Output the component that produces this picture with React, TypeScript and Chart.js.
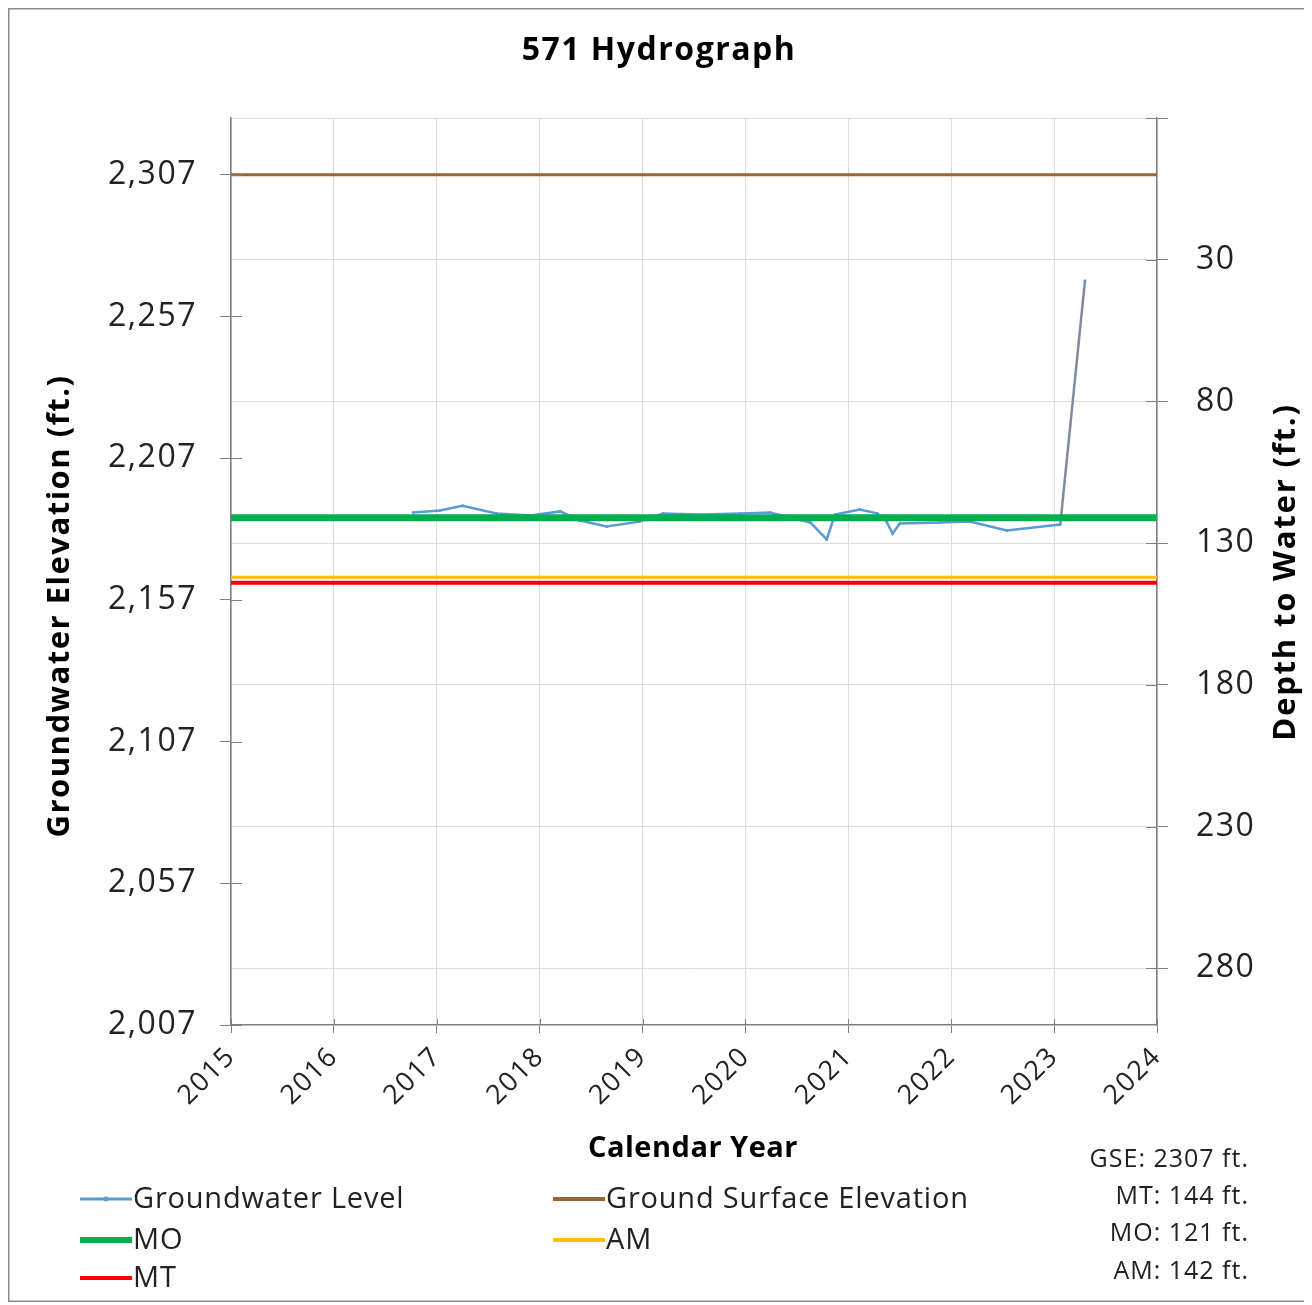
import React, { useEffect, useRef } from "react";
import { Chart, registerables } from "chart.js";

Chart.register(...registerables);

const yearTicks = [2015, 2016, 2017, 2018, 2019, 2020, 2021, 2022, 2023, 2024];
const elevTicks = [2007, 2057, 2107, 2157, 2207, 2257, 2307];
const depthTicks = [-20, 30, 80, 130, 180, 230, 280];

const gwDates = [2016.77, 2017.03, 2017.25, 2017.58, 2017.91, 2018.2, 2018.39, 2018.65, 2018.97, 2019.2, 2019.56, 2019.95, 2020.24, 2020.43, 2020.63, 2020.79, 2020.87, 2021.11, 2021.28, 2021.36, 2021.43, 2021.5, 2021.89, 2022.18, 2022.54, 2023.06, 2023.3];
const gwElev = [2187.8, 2188.5, 2190.2, 2187.5, 2186.8, 2188.2, 2185.0, 2182.9, 2184.6, 2187.5, 2187.1, 2187.5, 2187.8, 2186.1, 2184.3, 2178.3, 2187.1, 2188.9, 2187.5, 2185.4, 2180.4, 2183.9, 2184.3, 2184.6, 2181.5, 2183.6, 2269.6];

const GSE = 2307;
const MO_DEPTH = 121;
const AM_DEPTH = 142;
const MT_DEPTH = 144;

const legendItems = [
  { label: "Groundwater Level", color: "#5B9BD5", width: 3, col: 0, row: 0 },
  { label: "Ground Surface Elevation", color: "#996633", width: 4, col: 1, row: 0 },
  { label: "MO", color: "#00B050", width: 6, col: 0, row: 1 },
  { label: "AM", color: "#FFC000", width: 4, col: 1, row: 1 },
  { label: "MT", color: "#FF0000", width: 4, col: 0, row: 2 },
];
const noteLines = ["GSE: 2307 ft.", "MT: 144 ft.", "MO: 121 ft.", "AM: 142 ft."];

const FONT = "'Open Sans', 'DejaVu Sans', sans-serif";

const W = 1298;
const H = 1294;
const CA_LEFT = 223;
const CA_RIGHT = 1149;
const CA_TOP = 110;
const CA_BOTTOM = 1017;

function hline(v: number) {
  return [
    { x: 2015, y: v },
    { x: 2024, y: v },
  ];
}

const decor = {
  id: "decor",
  beforeDraw(chart: any) {
    chart.ctx.letterSpacing = "1.5px";
  },
  afterDatasetsDraw(chart: any) {
    const ctx = chart.ctx;
    const { left, right, bottom } = chart.chartArea;
    ctx.save();
    ctx.strokeStyle = "#808080";
    ctx.lineWidth = 1;
    const ys = chart.scales.y;
    const y2 = chart.scales.y2;
    const xs = chart.scales.x;
    ctx.beginPath();
    for (const t of ys.ticks) {
      const p = Math.round(ys.getPixelForValue(t.value)) + 0.5;
      ctx.moveTo(left, p);
      ctx.lineTo(left + 11, p);
    }
    for (const t of y2.ticks) {
      const p = Math.round(y2.getPixelForValue(t.value)) + 0.5;
      ctx.moveTo(right - 11, p);
      ctx.lineTo(right, p);
    }
    for (const t of xs.ticks) {
      const p = Math.round(xs.getPixelForValue(t.value)) + 0.5;
      ctx.moveTo(p, bottom);
      ctx.lineTo(p, bottom - 6);
    }
    ctx.stroke();
    ctx.restore();
  },
  afterDraw(chart: any) {
    const ctx = chart.ctx;
    ctx.save();
    ctx.letterSpacing = "0px";
    ctx.strokeStyle = "#8a8a8a";
    ctx.lineWidth = 1.5;
    ctx.strokeRect(0.75, 0.75, W - 1.5, H - 1.5);

    ctx.fillStyle = "#000";
    ctx.textAlign = "center";
    ctx.textBaseline = "middle";
    ctx.letterSpacing = "1.5px";
    ctx.font = `bold 32px ${FONT}`;
    ctx.fillText("571 Hydrograph", 651, 43);

    ctx.letterSpacing = "0.5px";
    ctx.font = `bold 29px ${FONT}`;
    ctx.fillText("Calendar Year", 685, 1141);

    ctx.save();
    ctx.translate(52, 598);
    ctx.rotate(-Math.PI / 2);
    ctx.letterSpacing = "1.5px";
    ctx.font = `bold 31px ${FONT}`;
    ctx.fillText("Groundwater Elevation (ft.)", 0, 0);
    ctx.restore();

    ctx.save();
    ctx.translate(1278, 564);
    ctx.rotate(-Math.PI / 2);
    ctx.letterSpacing = "1.8px";
    ctx.font = `bold 31px ${FONT}`;
    ctx.fillText("Depth to Water (ft.)", 0, 0);
    ctx.restore();

    // notes
    ctx.textAlign = "right";
    ctx.letterSpacing = "1px";
    ctx.font = `25px ${FONT}`;
    ctx.fillStyle = "#222";
    const noteY = [1152, 1189, 1226, 1264];
    noteLines.forEach((s, i) => ctx.fillText(s, 1241, noteY[i]));

    // legend
    const colX = [72, 545];
    const rowY = [1191, 1232, 1270];
    ctx.textAlign = "left";
    ctx.letterSpacing = "0.8px";
    ctx.font = `29px ${FONT}`;
    for (const it of legendItems) {
      const x = colX[it.col];
      const y = rowY[it.row];
      ctx.strokeStyle = it.color;
      ctx.lineWidth = it.width;
      ctx.beginPath();
      ctx.moveTo(x, y);
      ctx.lineTo(x + 52, y);
      ctx.stroke();
      if (it.row === 0 && it.col === 0) {
        ctx.fillStyle = it.color;
        ctx.beginPath();
        ctx.arc(x + 26, y, 2.5, 0, Math.PI * 2);
        ctx.fill();
      }
      ctx.fillStyle = "#222";
      ctx.fillText(it.label, x + 53, y + 1);
    }
    ctx.restore();
  },
};

export default function App() {
  const ref = useRef<HTMLCanvasElement | null>(null);
  useEffect(() => {
    document.documentElement.style.overflow = "hidden";
    const canvas = ref.current;
    if (!canvas) return;
    Chart.defaults.font.family = FONT;
    const gwData = gwDates.map((d, i) => ({ x: d, y: gwElev[i] }));
    const lastIdx = gwData.length - 2;
    const chart = new Chart(canvas, {
      type: "line",
      data: {
        datasets: [
          {
            label: "MO",
            data: hline(GSE - MO_DEPTH),
            borderColor: "#00B050",
            borderWidth: 7,
            pointRadius: 0,
            yAxisID: "y",
          },
          {
            label: "MT",
            data: hline(GSE - MT_DEPTH),
            borderColor: "#FF0000",
            borderWidth: 4,
            pointRadius: 0,
            yAxisID: "y",
          },
          {
            label: "AM",
            data: hline(GSE - AM_DEPTH),
            borderColor: "#FFC000",
            borderWidth: 3,
            pointRadius: 0,
            yAxisID: "y",
          },
          {
            label: "Ground Surface Elevation",
            data: hline(GSE),
            borderColor: "#996633",
            borderWidth: 3,
            pointRadius: 0,
            yAxisID: "y",
          },
          {
            label: "Groundwater Level",
            data: gwData,
            borderColor: "#5B9BD5",
            backgroundColor: "#5B9BD5",
            borderWidth: 2.5,
            pointRadius: 1.5,
            pointBorderWidth: 0,
            tension: 0,
            yAxisID: "y",
            segment: {
              borderColor: (c: any) => (c.p0DataIndex === lastIdx ? "#7F8C99" : undefined),
            },
          },
        ],
      },
      options: {
        responsive: false,
        animation: false,
        maintainAspectRatio: false,
        layout: { padding: { top: CA_TOP, bottom: H - CA_BOTTOM - 140, left: 0, right: 0 } },
        plugins: { legend: { display: false }, tooltip: { enabled: false }, title: { display: false } },
        scales: {
          x: {
            type: "linear",
            position: "bottom",
            min: 2015,
            max: 2024,
            afterBuildTicks: (s: any) => {
              s.ticks = yearTicks.map((v) => ({ value: v }));
            },
            afterFit: (s: any) => {
              s.height = 140;
            },
            ticks: {
              autoSkip: false,
              minRotation: 45,
              maxRotation: 45,
              padding: 8,
              color: "#222",
              font: { size: 27 },
              callback: (v: any) => String(v),
            },
            grid: { color: "#dcdcdc", lineWidth: 1, tickLength: 8, tickColor: "#808080" },
            border: { color: "#808080", width: 1.5 },
          },
          y: {
            type: "linear",
            position: "left",
            min: 2007,
            max: 2327,
            afterBuildTicks: (s: any) => {
              s.ticks = elevTicks.map((v) => ({ value: v }));
            },
            afterFit: (s: any) => {
              s.width = CA_LEFT;
            },
            ticks: {
              padding: 23,
              color: "#222",
              font: { size: 32 },
              callback: (v: any) => Number(v).toLocaleString("en-US"),
            },
            grid: { drawOnChartArea: false, tickLength: 11, tickColor: "#808080" },
            border: { color: "#808080", width: 1.5 },
          },
          y2: {
            type: "linear",
            position: "right",
            min: -20,
            max: 300,
            reverse: true,
            afterBuildTicks: (s: any) => {
              s.ticks = depthTicks.map((v) => ({ value: v }));
            },
            afterFit: (s: any) => {
              s.width = W - CA_RIGHT;
            },
            ticks: {
              padding: 28,
              color: "#222",
              font: { size: 32 },
              callback: (v: any) => (Number(v) < 0 ? "" : String(v)),
            },
            grid: { drawOnChartArea: true, color: "#dcdcdc", tickLength: 11, tickColor: "#808080" },
            border: { color: "#808080", width: 1.5 },
          },
        },
      },
      plugins: [decor],
    });
    return () => chart.destroy();
  }, []);
  return <canvas ref={ref} width={W} height={H} style={{ display: "block", width: W, height: H }} />;
}
